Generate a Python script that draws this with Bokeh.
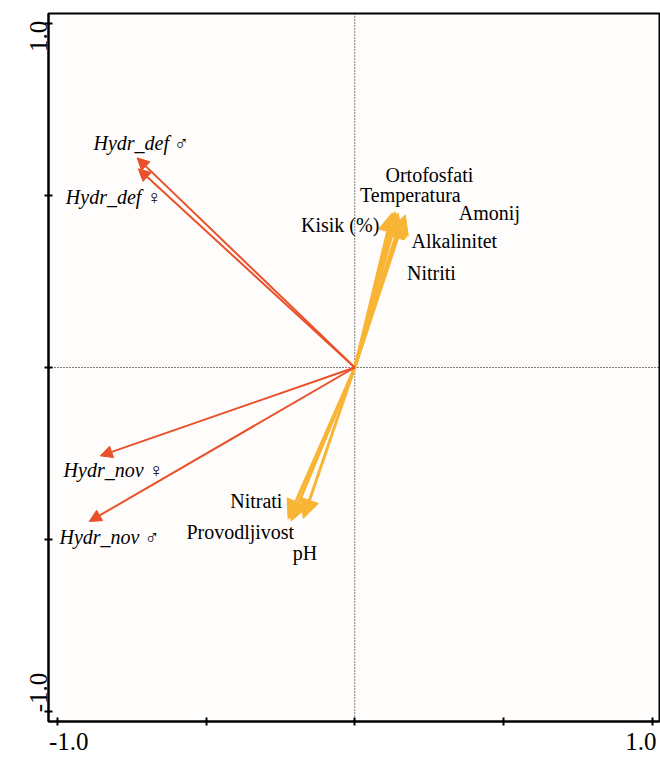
import math
from bokeh.plotting import figure
from bokeh.models import (ColumnDataSource, Arrow, NormalHead, Span, FixedTicker,
                          Range1d, LabelSet)
from bokeh.core.properties import value
from bokeh.embed import file_html
from bokeh.resources import INLINE

# ---- data ----
species = ["Hydr_def ♂", "Hydr_def ♀", "Hydr_nov ♀", "Hydr_nov ♂"]
species_x = [-0.732, -0.728, -0.856, -0.893]
species_y = [0.610, 0.578, -0.257, -0.448]
species_label_x = [-0.718, -0.811, -0.811, -0.825]
species_label_y = [0.653, 0.497, -0.299, -0.494]

env_vars = ["Kisik (%)", "Temperatura", "Ortofosfati", "Amonij", "Alkalinitet",
            "Nitriti", "Nitrati", "Provodljivost", "pH"]
env_x = [0.126, 0.136, 0.146, 0.170, 0.163, 0.156, -0.224, -0.214, -0.173]
env_y = [0.450, 0.453, 0.450, 0.444, 0.438, 0.432, -0.441, -0.447, -0.439]
env_label_x = [-0.049, 0.187, 0.251, 0.453, 0.335, 0.258, -0.331, -0.385, -0.167]
env_label_y = [0.415, 0.502, 0.560, 0.450, 0.368, 0.275, -0.388, -0.480, -0.539]

# tick marks, and the end labels (printed just inside the end ticks, as in the original)
tick_marks = [-1.0, -0.5, 0.0, 0.5, 1.0]
x_label_ticks = [-0.962, 0.962]
y_label_ticks = [-0.888, 1.009]
label_texts = ["-1.0", "1.0"]

RED = "#E8512A"
YELLOW = "#F8B535"
FONT = "Liberation Serif"

p = figure(width=660, height=762, output_backend="svg", toolbar_location=None,
           x_range=Range1d(-1.03, 1.025), y_range=Range1d(-1.03, 1.03),
           min_border_left=48, min_border_right=1, min_border_top=13,
           min_border_bottom=41)
p.grid.visible = False
p.outline_line_color = "black"
p.outline_line_width = 2
p.background_fill_color = "#FFFDFB"
p.border_fill_color = "white"

for ax, lt in ((p.xaxis[0], x_label_ticks), (p.yaxis[0], y_label_ticks)):
    ax.ticker = FixedTicker(ticks=lt, minor_ticks=tick_marks)
    ax.major_label_overrides = {v: t for v, t in zip(lt, label_texts)}
    ax.axis_line_width = 2
    ax.axis_line_color = "black"
    ax.major_tick_line_color = None
    ax.major_tick_in = 0
    ax.major_tick_out = 4
    ax.minor_tick_line_color = "black"
    ax.minor_tick_line_width = 2
    ax.minor_tick_in = 4
    ax.minor_tick_out = 4
    ax.major_label_text_font = FONT
    ax.major_label_text_font_size = "25px"
    ax.major_label_text_color = "black"
p.yaxis[0].major_label_orientation = math.pi / 2
p.yaxis[0].major_label_standoff = 6
p.xaxis[0].major_label_standoff = 7

# dotted zero lines
p.add_layout(Span(location=0, dimension="height", line_color="black",
                  line_width=1, line_dash="1 2"))
p.add_layout(Span(location=0, dimension="width", line_color="black",
                  line_width=1, line_dash="1 2"))

# environmental arrows (yellow)
env_src = ColumnDataSource(dict(x0=[0.0] * len(env_x), y0=[0.0] * len(env_y),
                                x=env_x, y=env_y, name=env_vars,
                                lx=env_label_x, ly=env_label_y))
p.add_layout(Arrow(end=NormalHead(size=19, fill_color=YELLOW, line_color=YELLOW,
                                  line_width=1),
                   x_start="x0", y_start="y0", x_end="x", y_end="y",
                   source=env_src, line_color=YELLOW, line_width=3))

# species arrows (red)
sp_src = ColumnDataSource(dict(x0=[0.0] * len(species_x), y0=[0.0] * len(species_y),
                               x=species_x, y=species_y, name=species,
                               lx=species_label_x, ly=species_label_y))
p.add_layout(Arrow(end=NormalHead(size=12, fill_color=RED, line_color=RED,
                                  line_width=1),
                   x_start="x0", y_start="y0", x_end="x", y_end="y",
                   source=sp_src, line_color=RED, line_width=2))

p.add_layout(LabelSet(x="lx", y="ly", text="name", source=env_src,
                      text_font=value(FONT), text_font_size="20px",
                      text_align="center", text_baseline="middle",
                      text_color="black"))
p.add_layout(LabelSet(x="lx", y="ly", text="name", source=sp_src,
                      text_font=value(FONT), text_font_size="20px",
                      text_font_style="italic",
                      text_align="center", text_baseline="middle",
                      text_color="black"))

open("out.html", "w").write(file_html(p, INLINE))
